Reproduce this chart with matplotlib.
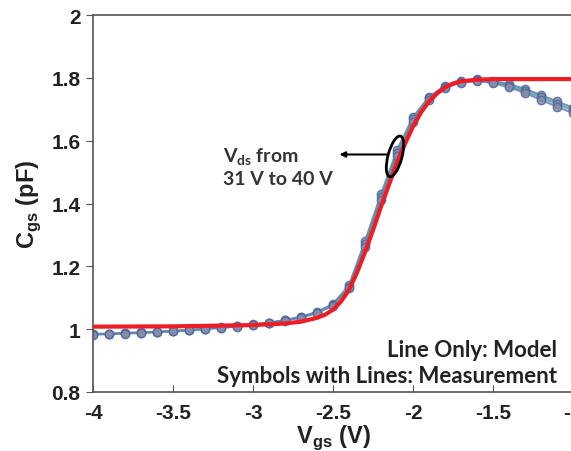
import matplotlib
matplotlib.use("Agg")
import matplotlib.pyplot as plt
import matplotlib.transforms as mtransforms
from matplotlib.patches import Ellipse

# measured Cgs (pF) vs Vgs (V), a few Vds curves (31 V .. 40 V)
vgs_meas = [-4.0, -3.9, -3.8, -3.7, -3.6, -3.5, -3.4, -3.3, -3.2, -3.1,
            -3.0, -2.9, -2.8, -2.7, -2.6, -2.5, -2.4, -2.3, -2.2, -2.1,
            -2.0, -1.9, -1.8, -1.7, -1.6, -1.5, -1.4, -1.3, -1.2, -1.1, -1.0]
cgs_31v = [0.985, 0.986, 0.988, 0.990, 0.992, 0.995, 0.998, 1.002, 1.006, 1.010,
           1.015, 1.021, 1.029, 1.040, 1.055, 1.080, 1.140, 1.280, 1.430, 1.570,
           1.675, 1.740, 1.775, 1.790, 1.795, 1.790, 1.780, 1.765, 1.745, 1.725, 1.705]
cgs_35v = [0.984, 0.985, 0.987, 0.989, 0.991, 0.994, 0.997, 1.001, 1.005, 1.009,
           1.014, 1.020, 1.028, 1.038, 1.053, 1.077, 1.135, 1.270, 1.420, 1.560,
           1.668, 1.735, 1.772, 1.788, 1.793, 1.787, 1.775, 1.758, 1.738, 1.717, 1.697]
cgs_40v = [0.983, 0.984, 0.986, 0.988, 0.990, 0.993, 0.996, 1.000, 1.004, 1.008,
           1.013, 1.019, 1.027, 1.037, 1.051, 1.075, 1.130, 1.262, 1.410, 1.550,
           1.660, 1.730, 1.768, 1.785, 1.790, 1.783, 1.770, 1.752, 1.730, 1.708, 1.688]

# model curve
vgs_model = [-4.0, -3.5, -3.0, -2.8, -2.7, -2.6, -2.55, -2.5, -2.45, -2.4, -2.35,
             -2.3, -2.25, -2.2, -2.15, -2.1, -2.05, -2.0, -1.95, -1.9, -1.85,
             -1.8, -1.75, -1.7, -1.6, -1.5, -1.0, -0.9]
cgs_model = [1.008, 1.009, 1.013, 1.018, 1.024, 1.036, 1.046, 1.062, 1.088, 1.125, 1.180,
             1.245, 1.315, 1.390, 1.460, 1.530, 1.590, 1.645, 1.690, 1.725, 1.750,
             1.770, 1.782, 1.789, 1.794, 1.796, 1.796, 1.796]

xticks = [-4, -3.5, -3, -2.5, -2, -1.5, -1]
xticklabels = ['-4', '-3.5', '-3', '-2.5', '-2', '-1.5', '-1']
yticks = [0.8, 1.0, 1.2, 1.4, 1.6, 1.8, 2.0]
yticklabels = ['0.8', '1', '1.2', '1.4', '1.6', '1.8', '2']

plt.rcParams['font.family'] = ['Liberation Sans', 'DejaVu Sans']

fig = plt.figure(figsize=(5.71, 4.52), dpi=100)
ax = fig.add_axes([93 / 571, 59 / 452, 480 / 571, 377 / 452])

meas_colors = ['#5b7fb5', '#4f9a8f', '#6a7fb0']
for cgs, c in zip([cgs_31v, cgs_35v, cgs_40v], meas_colors):
    ax.plot(vgs_meas, cgs, '-o', color=c, lw=1.5, ms=6,
            mfc='#8a8fa8', mec='#4a68a0', mew=1.0, alpha=0.85, zorder=2)

ax.plot(vgs_model, cgs_model, color='#ee1c25', lw=3, zorder=3)

# annotation: ellipse + arrow + text
trans = fig.dpi_scale_trans + mtransforms.ScaledTranslation(-2.1125, 1.55, ax.transData)
ax.add_patch(Ellipse((0, 0), 0.14, 0.42, angle=-15, fill=False, ec='black',
                     lw=2, transform=trans, zorder=5))
ax.annotate('', xy=(-2.46, 1.556), xytext=(-2.155, 1.556),
            arrowprops=dict(arrowstyle='-|>', color='black', lw=1.5,
                            mutation_scale=8, shrinkA=0, shrinkB=0))
ax.text(-3.19, 1.518, 'V$_{\\mathregular{ds}}$ from\n31 V to 40 V', ha='left', va='center',
        fontsize=14, family=['Lato', 'DejaVu Sans'], fontweight='bold',
        color='#333333', linespacing=1.25)

ax.text(-1.1, 0.935, 'Line Only: Model', ha='right', va='center',
        fontsize=16, family=['Lato', 'DejaVu Sans'], fontweight='bold', color='#222222')
ax.text(-1.1, 0.852, 'Symbols with Lines: Measurement', ha='right', va='center',
        fontsize=16, family=['Lato', 'DejaVu Sans'], fontweight='bold', color='#222222')

ax.set_xlim(-4, -1)
ax.set_ylim(0.8, 2)
ax.set_xticks(xticks)
ax.set_xticklabels(xticklabels)
ax.set_yticks(yticks)
ax.set_yticklabels(yticklabels)
for s in ax.spines.values():
    s.set_color('#555555')
    s.set_linewidth(1.2)
ax.tick_params(axis='x', direction='in', length=5, pad=8, labelsize=15, colors='#555555',
               labelcolor='#222222')
ax.tick_params(axis='y', direction='out', length=5, pad=4, labelsize=15, colors='#555555',
               labelcolor='#222222')
for lab in ax.get_xticklabels() + ax.get_yticklabels():
    lab.set_fontweight('bold')

ax.set_xlabel('V$_{\\mathregular{gs}}$ (V)', fontsize=17, fontweight='bold', labelpad=0,
              color='#222222')
ax.set_ylabel('C$_{\\mathregular{gs}}$ (pF)', fontsize=17, fontweight='bold', labelpad=6,
              color='#222222')

fig.savefig('out.png', dpi=100)
